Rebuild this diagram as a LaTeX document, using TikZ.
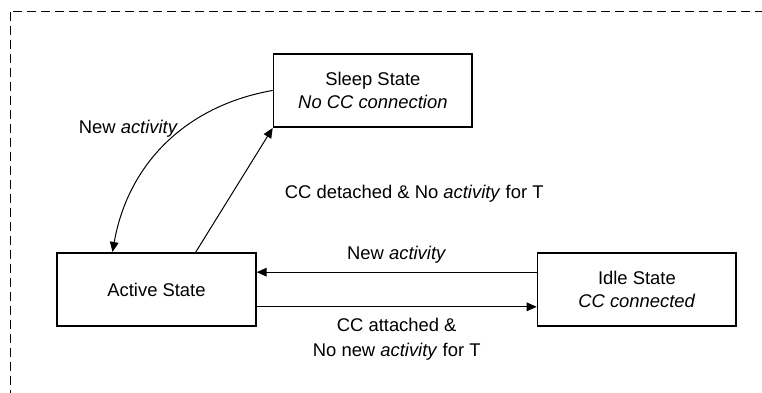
\documentclass[tikz,border=0pt]{standalone}
\usepackage{fontspec}
\setmainfont{Liberation Sans}
\usetikzlibrary{arrows.meta,positioning}
\begin{document}
\begin{tikzpicture}[x=0.75pt, y=-0.75pt, font=\fontsize{13.8pt}{17.5pt}\selectfont]
    \tikzstyle{state} = [rectangle, draw, line width=1.3pt, align=center, minimum width=149pt, minimum height=55pt]
    \tikzstyle{arrow} = [line width=0.75pt, -{Triangle[length=7.5pt,width=6.5pt]}]
    \tikzstyle{frame} = [dash pattern=on 6.75pt off 3.75pt, line width=0.75pt]

    \clip (0,0) rectangle (762,392);
    \draw [frame] (10,12) rectangle (780,410);

    \node [state] (active) at (156.5,289.5) {Active State};
    \node [state, right=210pt of active] (idle) {Idle State \\ \textit{CC connected}};
    \node [state, above right=93pt and 12pt of active] (sleep) {Sleep State \\ \textit{No CC connection}};

    \draw [arrow] ([yshift=13pt]idle.west) -- node[above=3pt] {New \textit{activity}} ([yshift=13pt]active.east);
    \draw [arrow] ([yshift=-13pt]active.east) -- node[below=5pt, align=center, font=\fontsize{13.8pt}{18.5pt}\selectfont] {CC attached \& \\ No new \textit{activity} for T} ([yshift=-13pt]idle.west);
    \draw [arrow] (sleep.west) to[out=190, in=80] node[pos=0.4, left] {New \textit{activity}} ([xshift=-33pt]active.north);
    \draw [arrow] ([xshift=29.5pt]active.north) -- node[pos=0.47, right=36pt] {CC detached \& No \textit{activity} for T} (sleep.south west);
\end{tikzpicture}
\end{document}
